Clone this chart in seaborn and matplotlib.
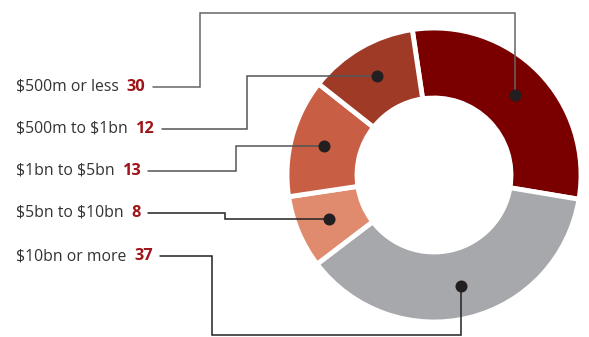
import numpy as np
import matplotlib
matplotlib.use("Agg")
import matplotlib.pyplot as plt
import seaborn as sns

# data
labels = ["$500m or less", "$500m to $1bn", "$1bn to $5bn", "$5bn to $10bn", "$10bn or more"]
values = [30, 12, 13, 8, 37]
# slice order around the ring (clockwise from top)
ring_order = [0, 4, 3, 2, 1]
colors = {0: "#7a0000", 1: "#9e3a26", 2: "#c85f45", 3: "#e08a6e", 4: "#a7a8ab"}

sns.set_theme(style="white")
plt.rcParams["font.family"] = ["Open Sans", "DejaVu Sans"]

W, H = 589, 337
fig = plt.figure(figsize=(W / 100, H / 100), dpi=100)
ax = fig.add_axes([0, 0, 1, 1])
ax.set_xlim(0, W)
ax.set_ylim(0, H)
ax.set_aspect("equal")
ax.axis("off")

cx, cy = 434, H - 175
R, w = 147, 70
start = 98.5

ring_vals = [values[i] for i in ring_order]
wedges, _ = ax.pie(ring_vals, colors=[colors[i] for i in ring_order], startangle=start,
                   counterclock=False, center=(cx, cy), radius=R,
                   wedgeprops=dict(width=w, edgecolor="white", linewidth=3.5))
ax.set_xlim(0, W)
ax.set_ylim(0, H)

# dot position at middle of each slice
total = sum(values)
dots = {}
a = start
for i in ring_order:
    span = 360 * values[i] / total
    mid = np.deg2rad(a - span / 2)
    r = R - w / 2 + 2
    dots[i] = (cx + r * np.cos(mid), cy + r * np.sin(mid))
    a -= span

fig.canvas.draw()
renderer = fig.canvas.get_renderer()

label_y = [87, 129, 171, 213, 256]
elbow_x = [200, 247, 236, 225, 212]
line_cols = ["#666666", "#555555", "#555555", "#222222", "#222222"]
for i, lab in enumerate(labels):
    y = H - label_y[i]
    t = ax.text(16, y, lab, fontsize=11.3, color="#333333", va="center", ha="left",
                parse_math=False)
    bb = t.get_window_extent(renderer)
    n = ax.text(bb.x1 + 8, y, str(values[i]), fontsize=11.8, color="#a01318",
                fontweight="bold", va="center", ha="left")
    nb = n.get_window_extent(renderer)
    x0 = nb.x1 + 7
    dx, dy = dots[i]
    if i == 0:
        xs = [x0, elbow_x[i], elbow_x[i], dx, dx]
        ys = [y, y, H - 13, H - 13, dy]
    elif i == 4:
        xs = [x0, elbow_x[i], elbow_x[i], dx, dx]
        ys = [y, y, H - 335, H - 335, dy]
    else:
        xs = [x0, elbow_x[i], elbow_x[i], dx]
        ys = [y, y, dy, dy]
    ax.plot(xs, ys, color=line_cols[i], lw=1.1, solid_joinstyle="miter", zorder=3)
    ax.scatter([dx], [dy], s=75, color="#231f20", zorder=4, linewidths=0)

fig.savefig("out.png", dpi=100)
